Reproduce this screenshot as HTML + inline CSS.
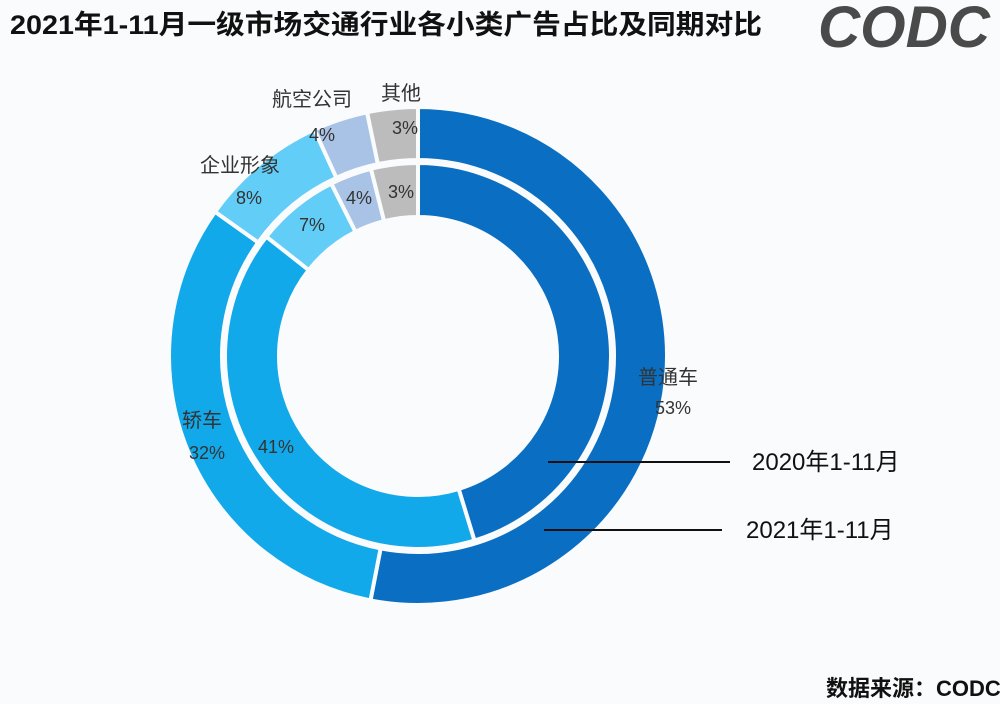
<!DOCTYPE html>
<html><head><meta charset="utf-8">
<style>html,body{margin:0;padding:0;background:#fafbfc;}svg{display:block}</style></head>
<body>
<svg id="s" width="1000" height="704" viewBox="0 0 1000 704" xmlns="http://www.w3.org/2000/svg" font-family="'Liberation Sans','Noto Sans CJK SC',sans-serif">
<rect width="1000" height="704" fill="#fafbfc"/>
<text x="10" y="34" font-size="27" font-weight="bold" fill="#111" textLength="752" lengthAdjust="spacingAndGlyphs">2021年1-11月一级市场交通行业各小类广告占比及同期对比</text>
<text x="818" y="47" font-size="58" font-weight="bold" font-style="italic" fill="#4a4a4a" textLength="172" lengthAdjust="spacingAndGlyphs">CODC</text>
<g id="rings"></g>
<g font-size="20" fill="#333">
<text x="272" y="106">航空公司</text>
<text x="381" y="100">其他</text>
<text x="200" y="172">企业形象</text>
<text x="236" y="204" font-size="18">8%</text>
<text x="309" y="141" font-size="18">4%</text>
<text x="392" y="134" font-size="18">3%</text>
<text x="299" y="231" font-size="18">7%</text>
<text x="346" y="204" font-size="18">4%</text>
<text x="388" y="198" font-size="18">3%</text>
<text x="638" y="384">普通车</text>
<text x="655" y="414" font-size="18">53%</text>
<text x="182" y="427">轿车</text>
<text x="189" y="459" font-size="18">32%</text>
<text x="258" y="453" font-size="18">41%</text>
<text x="752" y="470" font-size="24" fill="#111">2020年1-11月</text>
<text x="746" y="538" font-size="24" fill="#111">2021年1-11月</text>
<text x="826" y="696" font-size="22" font-weight="bold" fill="#111">数据来源：CODC</text>
</g>
<line x1="548" y1="462" x2="730" y2="462" stroke="#111" stroke-width="2"/>
<line x1="544" y1="530" x2="722" y2="530" stroke="#111" stroke-width="2"/>
</svg>
<script>
var cx=418,cy=356,g=document.getElementById('rings'),NS='http://www.w3.org/2000/svg';
function pt(r,a){a=a*Math.PI/180;return [cx+r*Math.sin(a),cy-r*Math.cos(a)];}
function seg(r1,r2,a1,a2,c){var l=(a2-a1)>180?1:0;var p1=pt(r2,a1),p2=pt(r2,a2),p3=pt(r1,a2),p4=pt(r1,a1);
var p=document.createElementNS(NS,'path');p.setAttribute('d','M'+p1+'A'+r2+','+r2+' 0 '+l+' 1 '+p2+'L'+p3+'A'+r1+','+r1+' 0 '+l+' 0 '+p4+'Z');
p.setAttribute('fill',c);p.setAttribute('stroke','#fafbfc');p.setAttribute('stroke-width','4');g.appendChild(p);}
var cols=['#0a6fc2','#12a9ea','#62cdf6','#a9c3e6','#bcbcbc'];
var o=[0,191,305.4,335.4,348.2,360],i=[0,163,308.2,333.3,345.9,360];
for(var k=0;k<5;k++){seg(196,249,o[k],o[k+1],cols[k]);seg(139,193,i[k],i[k+1],cols[k]);}
</script>
</body></html>
